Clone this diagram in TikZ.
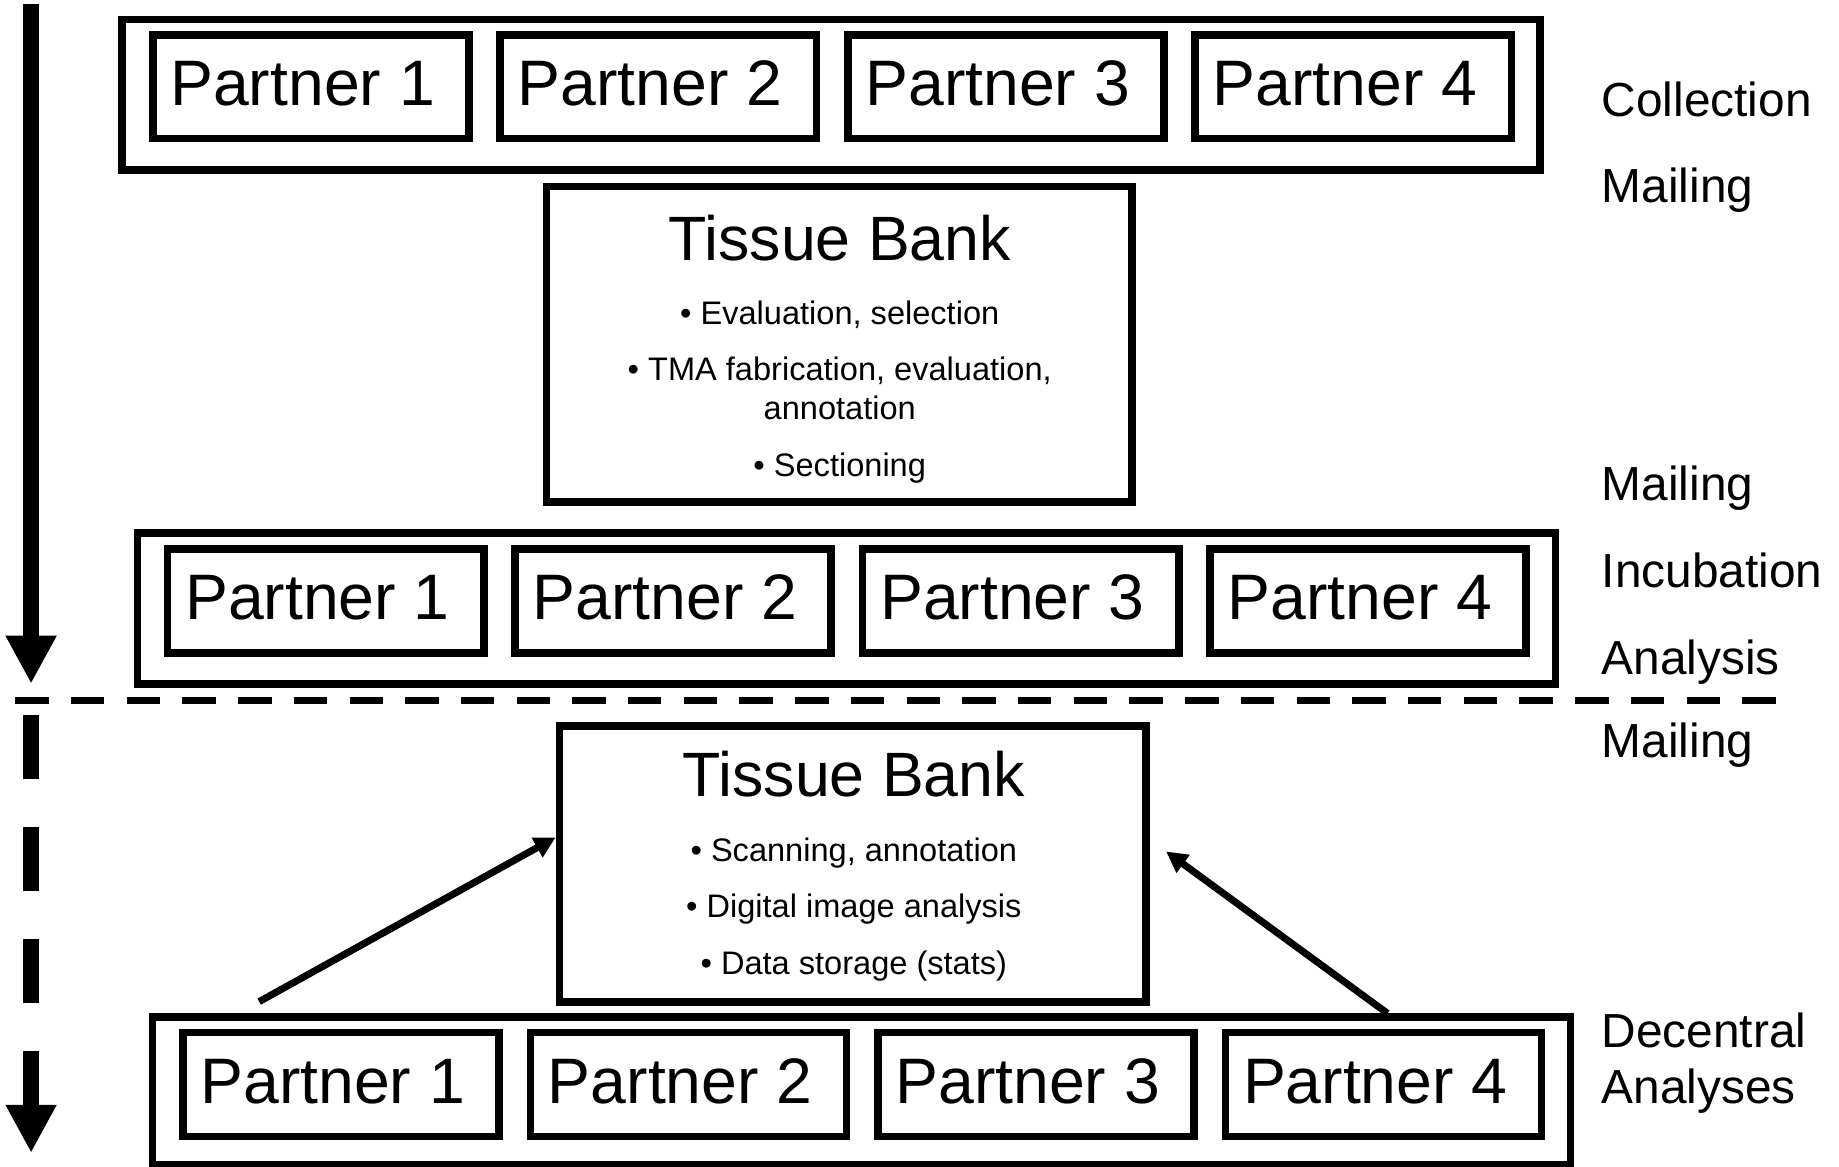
\documentclass[tikz,border=0pt]{standalone}
\usepackage{fontspec}
\setmainfont{Liberation Sans}
\usepackage{tikz}
\usetikzlibrary{arrows.meta,positioning,calc}
\tikzset{
  rowbox/.style={draw, line width=0.65mm, minimum width=120.9mm, minimum height=12.87mm, inner sep=0pt},
  partnerbox/.style={draw, line width=0.65mm, minimum width=26.95mm, minimum height=8.86mm, inner sep=0pt, font=\fontsize{15.6}{18}\selectfont},
  bankbox/.style={draw, line width=0.65mm, inner sep=0pt},
  banktitle/.style={anchor=base, inner sep=0pt, font=\fontsize{15.2}{18}\selectfont},
  bulletline/.style={anchor=base, inner sep=0pt, font=\fontsize{7.9}{9.5}\selectfont},
  steplabel/.style={anchor=base west, inner sep=0pt, font=\fontsize{11.6}{14}\selectfont},
  timeline/.style={line width=1.4mm, -{Triangle[width=4.06mm,length=4.1mm]}},
  sepline/.style={line width=0.6mm, dash pattern=on 2.85mm off 1.9mm},
  feed/.style={line width=0.6mm, -{Triangle[width=1.8mm,length=1.8mm]}},
}

\begin{document}
\begin{tikzpicture}[x=0.1mm, y=-0.1mm]
  \useasboundingbox (0,0) rectangle (1568,995);

  % partner rows
  \node[rowbox] (rowA) at (708.5,80.85) {};
  \node[rowbox] (rowB) at (721.8,519) {};
  \node[rowbox, minimum height=12.6mm] (rowC) at (734.5,930.3) {};
  \foreach \r/\x/\y in {A/265/73.9, B/277.7/512.4, C/290.7/924.7}
    \foreach \i in {1,...,4}
      \node[partnerbox] (p\r\i) at ({\x+296.3*(\i-1)},\y) {\raisebox{0.6mm}{Partner \i}\hspace*{1.4mm}};

  % tissue bank, first round
  \node[bankbox, minimum width=49.9mm, minimum height=26.9mm] (tbA) at (715.5,293.5) {};
  \node[banktitle] (tbAtitle) at (716,221.7) {Tissue Bank};
  \node[bulletline] (tbA1) at (716,277) {• Evaluation, selection};
  \node[bulletline] (tbA2) at (716,324.6) {• TMA fabrication, evaluation,};
  \node[bulletline] (tbA3) at (716,358) {annotation};
  \node[bulletline] (tbA4) at (716,406) {• Sectioning};

  % tissue bank, second round
  \node[bankbox, minimum width=50mm, minimum height=23.56mm] (tbB) at (727,736.8) {};
  \node[banktitle] (tbBtitle) at (728,679) {Tissue Bank};
  \node[bulletline] (tbB1) at (728,734.7) {• Scanning, annotation};
  \node[bulletline] (tbB2) at (728,782.7) {• Digital image analysis};
  \node[bulletline] (tbB3) at (728,830.7) {• Data storage (stats)};

  % steps on the right
  \foreach \t/\y [count=\k] in {Collection/99, Mailing/173, Mailing/427, Incubation/501,
      Analysis/575, Mailing/646, Decentral/893, Analyses/941}
    \node[steplabel] (step\k) at (1365,\y) {\t};

  % time axis
  \coordinate (tTop) at (26.5,3.5);
  \coordinate (tMid) at (26.5,583);
  \coordinate (bTop) at (26.5,610);
  \coordinate (bEnd) at (26.5,983);
  \draw[timeline] (tTop) -- (tMid);
  \draw[timeline, dash pattern=on 5.45mm off 4.1mm] (bTop) -- (bEnd);

  \coordinate (sepL) at (13,597);
  \coordinate (sepR) at (1522,597);
  \draw[sepline] (sepL) -- (sepR);

  % results back to the bank
  \coordinate (upL) at (221,854);
  \coordinate (upR) at (1183,864);
  \draw[feed] (upL) -- ([yshift=2.28mm]tbB.west);
  \draw[feed] (upR) -- ([xshift=1.4mm,yshift=1.08mm]tbB.east);
\end{tikzpicture}
\end{document}
